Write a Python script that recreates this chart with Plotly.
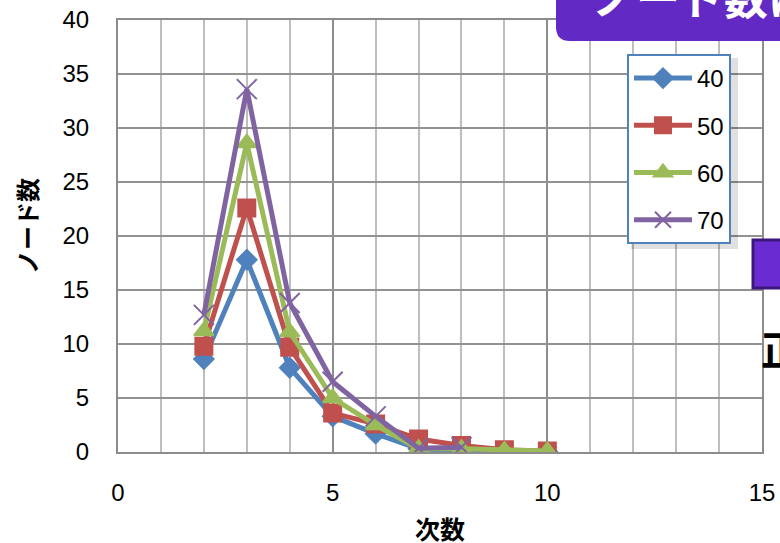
import plotly.graph_objects as go

# Data
series_names = ["40", "50", "60", "70"]
x_40 = [2, 3, 4, 5, 6, 7, 8, 9, 10]
y_40 = [8.6, 17.8, 7.8, 3.3, 1.7, 0.3, 0.1, 0.05, 0.02]
x_50 = [2, 3, 4, 5, 6, 7, 8, 9, 10]
y_50 = [9.8, 22.6, 9.7, 3.6, 2.6, 1.2, 0.6, 0.2, 0.1]
x_60 = [2, 3, 4, 5, 6, 7, 8, 9, 10]
y_60 = [11.2, 28.6, 11.1, 5.0, 2.5, 0.3, 0.3, 0.15, 0.1]
x_70 = [2, 3, 4, 5, 6, 7, 8]
y_70 = [12.7, 33.6, 13.8, 6.5, 3.3, 0.35, 0.45]

colors = ["#4F81BD", "#C0504D", "#9BBB59", "#8064A2"]
symbols = ["diamond", "square", "triangle-up", "x-thin"]
msizes = [15, 17, 17, 20]
xs = [x_40, x_50, x_60, x_70]
ys = [y_40, y_50, y_60, y_70]

# layout in px
W, H = 780, 543
L, R, T, B = 118, 762, 20, 452

def px(x):
    return (x - L) / (R - L)

def py(y):
    return (B - y) / (B - T)

fig = go.Figure()
for i, name in enumerate(series_names):
    fig.add_trace(go.Scatter(
        x=xs[i], y=ys[i], name=name, mode="lines+markers",
        legendgroup=name,
        line=dict(color=colors[i], width=5),
        marker=dict(symbol=symbols[i], size=msizes[i], color=colors[i],
                    line=dict(color=colors[i], width=2)),
    ))

# shadow for legend
fig.add_shape(type="rect", xref="paper", yref="paper",
              x0=px(631), x1=px(738), y0=py(249), y1=py(58),
              fillcolor="rgba(0,0,0,0.12)", line=dict(width=0), layer="above")

# purple title box (top right, cut)
r = 14
x0p, x1p, y0p, y1p = 556, 800, -20, 41
path = (f"M {px(x0p)},{py(y0p)} L {px(x0p)},{py(y1p - r)} "
        f"Q {px(x0p)},{py(y1p)} {px(x0p + r)},{py(y1p)} "
        f"L {px(x1p)},{py(y1p)} L {px(x1p)},{py(y0p)} Z")
fig.add_shape(type="path", xref="paper", yref="paper", path=path,
              fillcolor="#6229C4", line=dict(width=0), layer="above")
fig.add_annotation(xref="paper", yref="paper", x=px(590), y=py(-4),
                   xanchor="left", yanchor="middle", showarrow=False,
                   text="<b>ノード数に</b>",
                   font=dict(family="Noto Sans CJK JP", size=44, color="white"))

# purple square on the right
fig.add_shape(type="rect", xref="paper", yref="paper",
              x0=px(753), x1=px(800), y0=py(288), y1=py(240),
              fillcolor="#6A2BD0", line=dict(color="#3C1680", width=3), layer="above")
fig.add_annotation(xref="paper", yref="paper", x=px(759), y=py(348),
                   xanchor="left", yanchor="middle", showarrow=False,
                   text="<b>正</b>",
                   font=dict(family="Noto Sans CJK JP", size=40, color="black"))

# axis titles
fig.add_annotation(xref="paper", yref="paper", x=px(26), y=py(226),
                   xanchor="center", yanchor="middle", showarrow=False,
                   textangle=-90, text="<b>ノード数</b>",
                   font=dict(family="Noto Sans CJK JP", size=24, color="black"))
fig.add_annotation(xref="paper", yref="paper", x=px(440), y=py(528),
                   xanchor="center", yanchor="middle", showarrow=False,
                   text="<b>次数</b>",
                   font=dict(family="Noto Sans CJK JP", size=25, color="black"))

fig.update_layout(
    width=W, height=H,
    margin=dict(l=L, r=W - R, t=T, b=H - B, pad=0, autoexpand=False),
    paper_bgcolor="white", plot_bgcolor="white",
    font=dict(family="Liberation Sans, Arial", size=24, color="black"),
    showlegend=True,
    legend=dict(x=px(627), y=py(54), xanchor="left", yanchor="top",
                bgcolor="white", bordercolor="#4F81BD", borderwidth=2,
                font=dict(family="Liberation Sans, Arial", size=24, color="black"),
                tracegroupgap=13, itemwidth=58),
)
fig.update_xaxes(range=[0, 15], dtick=5, tick0=0, automargin=False,
                 showgrid=True, gridcolor="#8C8C8C", gridwidth=2,
                 minor=dict(dtick=1, showgrid=True, gridcolor="#BEBEBE", gridwidth=2),
                 showline=True, linecolor="#8C8C8C", linewidth=2, mirror=True,
                 zeroline=False, ticks="", ticklabelstandoff=18)
fig.update_yaxes(range=[0, 40], dtick=5, tick0=0, automargin=False,
                 showgrid=True, gridcolor="#929292", gridwidth=2,
                 showline=True, linecolor="#8C8C8C", linewidth=2, mirror=True,
                 zeroline=False, ticks="", ticklabelstandoff=22)

fig.write_html("out.html", config={"displayModeBar": False},
               post_script="document.body.style.margin='0';document.body.style.overflow='hidden';")
